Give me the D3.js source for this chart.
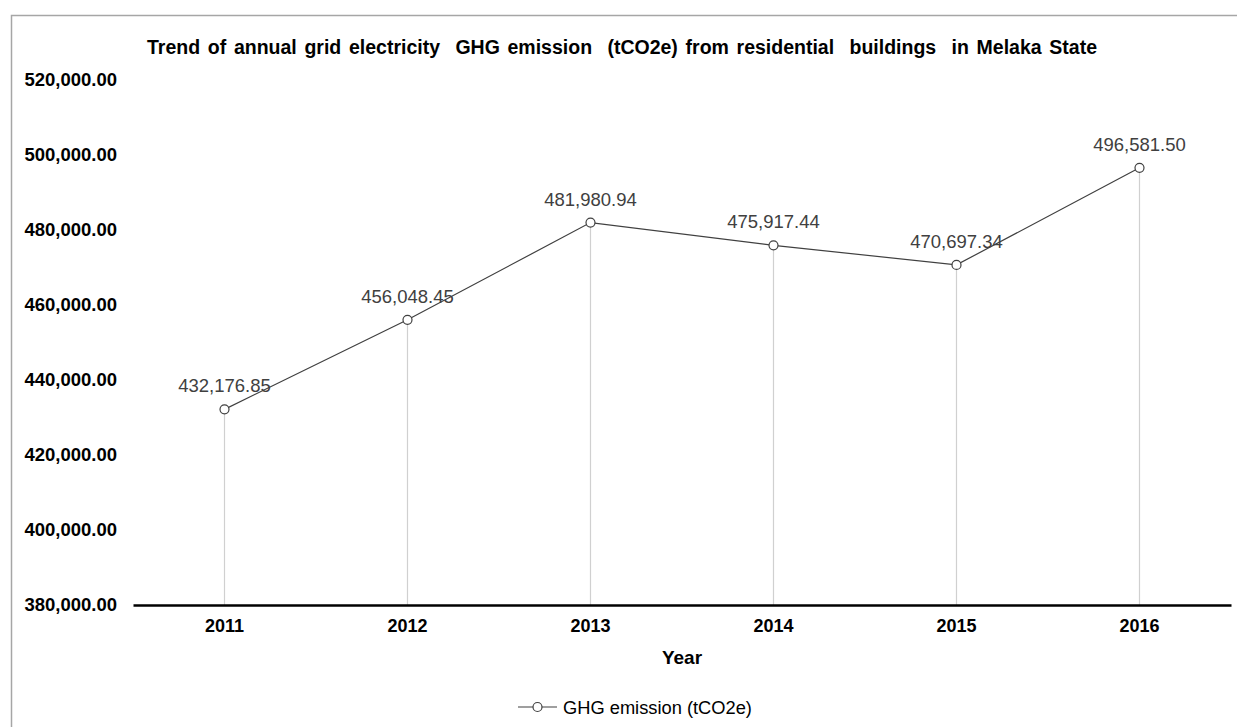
<!DOCTYPE html>
<html>
<head>
<meta charset="utf-8">
<script src="https://cdn.jsdelivr.net/npm/d3@7"></script>
<style>
  html, body { margin: 0; padding: 0; background: #fff; }
  svg { display: block; font-family: "Liberation Sans", Arial, sans-serif; }
</style>
</head>
<body>
<svg id="chart" width="1237" height="727"></svg>
<script>
// Annual grid electricity GHG emission, residential buildings, Melaka
const years = ["2011", "2012", "2013", "2014", "2015", "2016"];
const emissions = [432176.85, 456048.45, 481980.94, 475917.44, 470697.34, 496581.50];
const yTicks = [380000, 400000, 420000, 440000, 460000, 480000, 500000, 520000];
const titleText = "Trend of annual grid electricity  GHG emission  (tCO2e) from residential  buildings  in Melaka State";
const seriesName = "GHG emission (tCO2e)";
const xTitle = "Year";

const data = years.map((y, i) => ({ year: y, value: emissions[i] }));

const svg = d3.select("#chart");
const W = 1237, H = 727;

// outer chart frame (extends past the right and bottom edges)
svg.append("rect")
  .attr("x", 11.5).attr("y", 15.5)
  .attr("width", W + 20).attr("height", H + 20)
  .attr("fill", "none").attr("stroke", "#a6a6a6").attr("stroke-width", 1.5);

const x = d3.scaleBand().domain(years).range([133, 1231]);
const y = d3.scaleLinear().domain([380000, 520000]).range([605, 80]);
const cx = d => x(d) + x.bandwidth() / 2;

const fmt = d3.format(",.2f");

// title, stretched to span its measured width
const title = svg.append("text")
  .attr("x", 622).attr("y", 54)
  .attr("text-anchor", "middle")
  .attr("font-weight", "bold").attr("font-size", 19.5)
  .attr("fill", "#000")
  .style("white-space", "pre")
  .text(titleText);
const titleW = title.node().getComputedTextLength();
const nSpaces = (titleText.match(/ /g) || []).length;
title.attr("word-spacing", Math.max(0, (950 - titleW) / nSpaces));

// y axis labels (no axis line)
const yAxis = d3.axisLeft(y).tickValues(yTicks).tickFormat(fmt).tickSize(0).tickPadding(0);
const yg = svg.append("g").attr("transform", "translate(117,0)").call(yAxis);
yg.select(".domain").remove();
yg.selectAll("text")
  .attr("font-size", 18.5).attr("font-weight", "bold")
  .attr("font-family", "Liberation Sans, Arial, sans-serif")
  .attr("fill", "#000");

// drop lines from each point to the category axis
svg.append("g").selectAll("line").data(data).join("line")
  .attr("x1", d => cx(d.year)).attr("x2", d => cx(d.year))
  .attr("y1", d => y(d.value)).attr("y2", y(380000))
  .attr("stroke", "#d0d0d0").attr("stroke-width", 1.2);

// x axis
const xAxis = d3.axisBottom(x).tickSize(0).tickPadding(14);
const xg = svg.append("g").attr("transform", `translate(0,${y(380000)})`).call(xAxis);
xg.select(".domain").attr("stroke", "#000").attr("stroke-width", 2.5);
xg.selectAll("text")
  .attr("font-size", 18).attr("font-weight", "bold")
  .attr("font-family", "Liberation Sans, Arial, sans-serif")
  .attr("fill", "#000");

// x axis title
svg.append("text")
  .attr("x", 682).attr("y", 664)
  .attr("text-anchor", "middle")
  .attr("font-weight", "bold").attr("font-size", 19)
  .attr("fill", "#000")
  .text(xTitle);

// series line
const line = d3.line().x(d => cx(d.year)).y(d => y(d.value));
svg.append("path").datum(data)
  .attr("d", line)
  .attr("fill", "none").attr("stroke", "#404040").attr("stroke-width", 1.2);

// markers
svg.append("g").selectAll("circle").data(data).join("circle")
  .attr("cx", d => cx(d.year)).attr("cy", d => y(d.value)).attr("r", 4.5)
  .attr("fill", "#fff").attr("stroke", "#404040").attr("stroke-width", 1.2);

// value labels
svg.append("g").selectAll("text").data(data).join("text")
  .attr("x", d => cx(d.year)).attr("y", d => y(d.value) - 17)
  .attr("text-anchor", "middle")
  .attr("font-size", 18.5).attr("fill", "#404040")
  .text(d => fmt(d.value));

// legend
const lg = svg.append("g").attr("transform", "translate(518,707)");
lg.append("line").attr("x1", 0).attr("x2", 39).attr("y1", 0).attr("y2", 0)
  .attr("stroke", "#404040").attr("stroke-width", 1.2);
lg.append("circle").attr("cx", 19.5).attr("cy", 0).attr("r", 4.5)
  .attr("fill", "#fff").attr("stroke", "#404040").attr("stroke-width", 1.2);
lg.append("text").attr("x", 45).attr("y", 6.5)
  .attr("font-size", 18.3).attr("fill", "#000")
  .text(seriesName);
</script>
</body>
</html>
